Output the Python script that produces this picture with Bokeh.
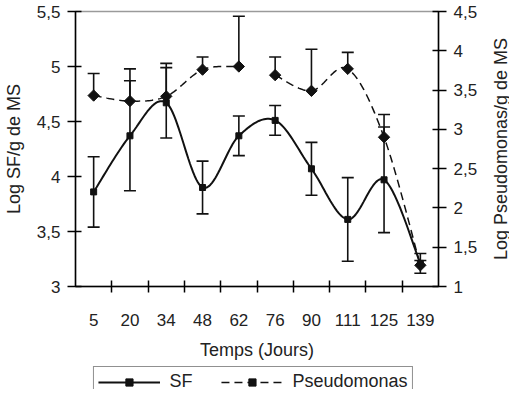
import math
import numpy as np
from bokeh.plotting import figure
from bokeh.layouts import column, row
from bokeh.models import (Range1d, LinearAxis, FixedTicker, Whisker, TeeHead, Label,
                          ColumnDataSource, Legend, LegendItem, CustomJSTickFormatter)
from bokeh.embed import file_html
from bokeh.resources import INLINE

# ---- data ----
days = ["5", "20", "34", "48", "62", "76", "90", "111", "125", "139"]
sf = [3.86, 4.37, 4.67, 3.90, 4.37, 4.51, 4.07, 3.61, 3.97, 3.21]
sf_err = [0.32, 0.50, 0.32, 0.24, 0.18, 0.135, 0.24, 0.38, 0.48, 0.09]
pseudo = [3.43, 3.36, 3.42, 3.76, 3.80, 3.69, 3.49, 3.77, 2.90, 1.27]
pseudo_err = [0.28, 0.41, 0.42, 0.16, 0.64, 0.23, 0.53, 0.21, 0.29, 0.06]
# the dashed Pseudomonas line is broken between day 62 and day 76
pseudo_segments = [(0, 5), (5, 10)]
left_ticks = [3, 3.5, 4, 4.5, 5, 5.5]
right_ticks = [1, 1.5, 2, 2.5, 3, 3.5, 4, 4.5]
series_names = ["SF", "Pseudomonas"]
right_title = "Log Pseudomonas/g de MS"

FONT = "Liberation Sans"
TXT = "#222222"
INK = "#111111"

x = [i + 0.5 for i in range(len(days))]


def smooth(xs, ys, n=24):
    """Excel-like smoothed line (Bezier / Catmull-Rom through the points)."""
    pts = np.column_stack([xs, ys]).astype(float)
    m = len(pts)
    out = []
    for i in range(m - 1):
        p0 = pts[i - 1] if i > 0 else pts[i]
        p1, p2 = pts[i], pts[i + 1]
        p3 = pts[i + 2] if i + 2 < m else pts[i + 1]
        c1 = p1 + (p2 - p0) / 6.0
        c2 = p2 - (p3 - p1) / 6.0
        t = np.linspace(0, 1, n)[:, None]
        seg = (1 - t) ** 3 * p1 + 3 * (1 - t) ** 2 * t * c1 + 3 * (1 - t) * t ** 2 * c2 + t ** 3 * p2
        if i > 0:
            seg = seg[1:]
        out.append(seg)
    arr = np.vstack(out)
    return arr[:, 0], arr[:, 1]


FRAME_W, FRAME_H = 363, 275
BORDER_L, BORDER_R, BORDER_T, BORDER_B = 71, 53, 11, 80
MAIN_W = BORDER_L + FRAME_W + BORDER_R
MAIN_H = BORDER_T + FRAME_H + BORDER_B
TITLE_W = 18

p = figure(frame_width=FRAME_W, frame_height=FRAME_H,
           x_range=Range1d(0, 10), y_range=Range1d(3, 5.5),
           output_backend="svg", toolbar_location=None,
           min_border_left=BORDER_L, min_border_right=BORDER_R,
           min_border_top=BORDER_T, min_border_bottom=BORDER_B)
p.extra_y_ranges = {"right": Range1d(1, 4.5)}
p.grid.visible = False
p.outline_line_color = "#9a9a9a"
p.outline_line_width = 1.5
p.background_fill_color = "white"
p.border_fill_color = "white"

# x axis
xa = p.xaxis[0]
xa.ticker = FixedTicker(ticks=x, minor_ticks=list(range(1, 10)))
xa.formatter = CustomJSTickFormatter(args=dict(labels=days),
                                     code="return labels[Math.floor(tick)];")
xa.major_tick_in = 0
xa.major_tick_out = 0
xa.minor_tick_in = 6
xa.minor_tick_out = 6
xa.minor_tick_line_color = "black"
xa.minor_tick_line_width = 1.5
xa.axis_line_width = 1.5
xa.major_label_standoff = 21
xa.axis_label = "Temps (Jours)"
xa.axis_label_standoff = 11

# left axis
ya = p.yaxis[0]
ya.ticker = FixedTicker(ticks=left_ticks)
ya.axis_label = "Log SF/g de MS"
ya.axis_label_standoff = 10
ya.major_label_standoff = 7

# right axis (its title, read bottom-to-top, sits in a narrow strip to the right)
ra = LinearAxis(y_range_name="right", ticker=FixedTicker(ticks=right_ticks))
ra.major_label_standoff = 7
p.add_layout(ra, "right")

comma = CustomJSTickFormatter(code="return tick.toString().replace('.', ',');")
for ax in (ya, ra):
    ax.formatter = comma
    ax.major_tick_in = 6
    ax.major_tick_out = 8
    ax.minor_tick_line_color = None
    ax.axis_line_width = 1.5
    ax.major_tick_line_width = 1.5

for ax in (xa, ya, ra):
    ax.axis_line_color = "black"
    ax.major_tick_line_color = "black"
    ax.major_label_text_font = FONT
    ax.major_label_text_font_size = "17px"
    ax.major_label_text_color = TXT
    ax.axis_label_text_font = FONT
    ax.axis_label_text_font_size = "18px"
    ax.axis_label_text_font_style = "normal"
    ax.axis_label_text_color = TXT

# ---- error bars ----
sf_src = ColumnDataSource(dict(x=x, y=sf,
                               lo=[v - e for v, e in zip(sf, sf_err)],
                               hi=[v + e for v, e in zip(sf, sf_err)]))
p.add_layout(Whisker(source=sf_src, base="x", lower="lo", upper="hi",
                     line_color=INK, line_width=1.6,
                     lower_head=TeeHead(size=12, line_color=INK, line_width=1.6),
                     upper_head=TeeHead(size=12, line_color=INK, line_width=1.6)))

ps_src = ColumnDataSource(dict(x=x, y=pseudo, lo=pseudo,
                               hi=[v + e for v, e in zip(pseudo, pseudo_err)]))
p.add_layout(Whisker(source=ps_src, base="x", lower="lo", upper="hi",
                     y_range_name="right", line_color=INK, line_width=1.6,
                     lower_head=None,
                     upper_head=TeeHead(size=12, line_color=INK, line_width=1.6)))

# ---- SF smooth line ----
sx, sy = smooth(x, sf)
p.line(sx, sy, line_color=INK, line_width=2)
p.scatter("x", "y", source=sf_src, marker="square", size=6, fill_color=INK, line_color=INK)

# ---- Pseudomonas dashed smooth line ----
for a, b in pseudo_segments:
    px_, py_ = smooth(x[a:b], pseudo[a:b])
    p.line(px_, py_, line_color=INK, line_width=1.5, line_dash="8 5", y_range_name="right")
p.scatter("x", "y", source=ps_src, marker="square", angle=math.pi / 4, size=8,
          fill_color=INK, line_color=INK, y_range_name="right")

# ---- right-axis title strip (its frame is aligned with the chart's frame) ----
tf = figure(width=TITLE_W, height=MAIN_H, x_range=Range1d(0, 1), y_range=Range1d(0, 1),
            output_backend="svg", toolbar_location=None, min_border=0,
            x_axis_location=None, y_axis_location=None)
tf.grid.visible = False
tf.outline_line_color = None
tf.add_layout(Label(x=0.5, y=0.5, text=right_title, angle=math.pi / 2, text_align="center",
                    text_baseline="middle", text_font=FONT, text_font_size="18px",
                    text_color=TXT))

# ---- legend strip below the chart (same styles; its ranges keep the data out of view) ----
lf = figure(width=MAIN_W + TITLE_W, height=23, x_range=Range1d(100, 101), y_range=Range1d(100, 101),
            output_backend="svg", toolbar_location=None, min_border=0,
            x_axis_location=None, y_axis_location=None)
lf.grid.visible = False
lf.outline_line_color = None
l1 = lf.line(x, sf, line_color=INK, line_width=2)
m1 = lf.scatter(x, sf, marker="square", size=6, fill_color=INK, line_color=INK)
l2 = lf.line(x, pseudo, line_color=INK, line_width=1.5, line_dash="8 5")
m2 = lf.scatter(x, pseudo, marker="square", angle=math.pi / 4, size=8,
                fill_color=INK, line_color=INK)
legend = Legend(items=[LegendItem(label=series_names[0], renderers=[l1, m1]),
                       LegendItem(label=series_names[1], renderers=[l2, m2])],
                orientation="horizontal", location="top_center",
                padding=4, spacing=28, glyph_width=62, glyph_height=18, label_height=18,
                label_standoff=10, label_text_font=FONT, label_text_font_size="18px",
                label_text_color=TXT, border_line_color="#222222", border_line_width=1.5,
                background_fill_alpha=1, margin=0)
lf.add_layout(legend, "center")

layout = column(row(p, tf, spacing=0), lf, spacing=0)
open("out.html", "w").write(file_html(layout, INLINE))
